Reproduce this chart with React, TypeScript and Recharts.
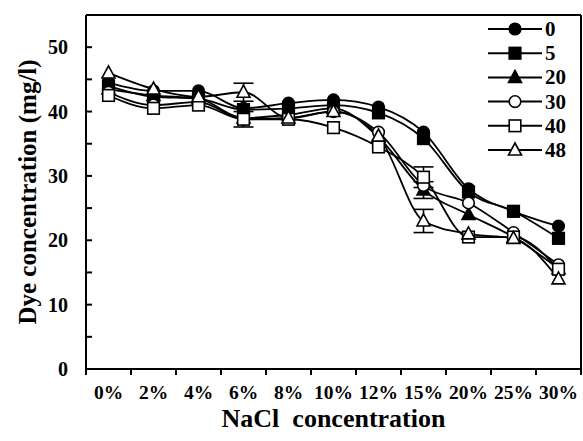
import React from 'react'
import {
  LineChart, Line, XAxis, YAxis, ReferenceLine, Legend, ErrorBar,
} from 'recharts'

const CATEGORIES = ['0%', '2%', '4%', '6%', '8%', '10%', '12%', '15%', '20%', '25%', '30%']
const S0 = [44.5, 43.2, 43.2, 40.5, 41.3, 41.8, 40.7, 36.8, 28, 24.5, 22.2]
const S5 = [44, 42.3, 42, 40.3, 40.5, 41, 39.8, 35.8, 27.5, 24.5, 20.3]
const S20 = [43.5, 42.5, 42, 39, 39.5, 40.5, 36, 27.8, 24, 20.5, 15.6]
const S30 = [43, 41, 41.5, 38.8, 39, 40, 36.8, 28.5, 25.8, 21.2, 16.2]
const S40 = [42.5, 40.5, 41, 38.8, 38.8, 37.5, 34.5, 29.8, 20.5, 20.5, 15.5]
const S48 = [46, 43.5, 42.3, 43, 39, 40, 36.2, 23, 21, 20.3, 14]
// error bars (only the visible ones)
const E20 = [0, 0, 0, 0, 0, 0, 0, 1.3, 0, 0, 0]
const E40 = [0, 0, 0, 1.2, 0, 0, 0, 1.6, 0, 0, 0]
const E48 = [0, 0, 0, 1.4, 0, 0, 0, 1.8, 0, 0, 0]
const Y_TICKS = [0, 5, 10, 15, 20, 25, 30, 35, 40, 45, 50]

const SERIES = [
  { key: 's0', name: '0', shape: 'circle', fill: '#000' },
  { key: 's5', name: '5', shape: 'square', fill: '#000' },
  { key: 's20', name: '20', shape: 'triangle', fill: '#000' },
  { key: 's30', name: '30', shape: 'circle', fill: '#fff' },
  { key: 's40', name: '40', shape: 'square', fill: '#fff' },
  { key: 's48', name: '48', shape: 'triangle', fill: '#fff' },
]

const data = CATEGORIES.map((c, i) => ({
  x: i + 0.5,
  label: c,
  s0: S0[i], s5: S5[i], s20: S20[i], s30: S30[i], s40: S40[i], s48: S48[i],
  e20: E20[i], e40: E40[i], e48: E48[i],
}))

const X_TICKS = Array.from({ length: 23 }, (_, i) => i / 2)

const W = 583
const H = 441
const PLOT_LEFT = 86
const PLOT_BOTTOM = 369
const FONT = '"Liberation Serif", "Times New Roman", serif'

function Marker({ cx, cy, shape, fill }: { cx: number; cy: number; shape: string; fill: string }) {
  if (cx == null || cy == null) return null
  const common = { fill, stroke: '#000', strokeWidth: 1.6 }
  if (shape === 'circle') return <circle cx={cx} cy={cy} r={5.8} {...common} />
  if (shape === 'square') return <rect x={cx - 5.8} y={cy - 5.8} width={11.6} height={11.6} {...common} />
  return <polygon points={`${cx},${cy - 7} ${cx - 6.5},${cy + 5} ${cx + 6.5},${cy + 5}`} {...common} />
}

function XTick(props: any) {
  const { x, payload } = props
  const v = payload.value
  if (Number.isInteger(v)) {
    return <line x1={x} y1={PLOT_BOTTOM} x2={x} y2={PLOT_BOTTOM + 6} stroke="#000" strokeWidth={2} />
  }
  return (
    <text x={x} y={PLOT_BOTTOM + 30} textAnchor="middle" fontFamily={FONT} fontWeight="bold" fontSize={19.5} fill="#000">
      {CATEGORIES[Math.floor(v)]}
    </text>
  )
}

function YTick(props: any) {
  const { y, payload } = props
  const v = payload.value
  return (
    <g>
      {v > 0 && <line x1={PLOT_LEFT} y1={y} x2={PLOT_LEFT + 6} y2={y} stroke="#000" strokeWidth={2} />}
      {v % 10 === 0 && (
        <text x={PLOT_LEFT - 18} y={y} dy={7} textAnchor="end" fontFamily={FONT} fontWeight="bold" fontSize={20} fill="#000">
          {v}
        </text>
      )}
    </g>
  )
}

function YLabel(props: any) {
  const vb = props.viewBox || { x: 0, y: 15, width: 86, height: 354 }
  const cx = vb.x + 27
  const cy = vb.y + vb.height / 2
  return (
    <text
      x={cx} y={cy}
      transform={`rotate(-90, ${cx}, ${cy})`}
      textAnchor="middle" dominantBaseline="central"
      fontFamily={FONT} fontWeight="bold" fontSize={25} fill="#000"
    >
      Dye concentration (mg/l)
    </text>
  )
}

function XLabel(props: any) {
  const vb = props.viewBox || { x: 86, y: 369, width: 495, height: 72 }
  return (
    <text
      x={vb.x + vb.width / 2} y={vb.y + 58}
      textAnchor="middle" xmlSpace="preserve"
      fontFamily={FONT} fontWeight="bold" fontSize={26} fill="#000"
    >
      {'NaCl\u00a0\u00a0concentration'}
    </text>
  )
}

function LegendBox() {
  return (
    <svg width={100} height={150}>
      {SERIES.map((s, i) => {
        const y = 12 + i * 24.2
        return (
          <g key={s.key}>
            <line x1={2} y1={y} x2={56} y2={y} stroke="#000" strokeWidth={2} />
            <Marker cx={29} cy={y} shape={s.shape} fill={s.fill} />
            <text x={59} y={y + 7} fontFamily={FONT} fontWeight="bold" fontSize={21} fill="#000">{s.name}</text>
          </g>
        )
      })}
    </svg>
  )
}

export default function App() {
  return (
    <div style={{ position: 'absolute', left: 0, top: 0, width: W, height: H, background: '#fff' }}>
      <LineChart width={W} height={H} data={data} margin={{ top: 15, right: 2, bottom: 0, left: 0 }}>
        <XAxis
          dataKey="x"
          type="number"
          domain={[0, 11]}
          ticks={X_TICKS}
          interval={0}
          tick={<XTick />}
          tickLine={false}
          axisLine={{ stroke: '#000', strokeWidth: 2 }}
          height={72}
          label={<XLabel />}
        />
        <YAxis
          type="number"
          domain={[0, 55]}
          ticks={Y_TICKS}
          interval={0}
          tick={<YTick />}
          tickLine={false}
          axisLine={{ stroke: '#000', strokeWidth: 2 }}
          width={86}
          label={<YLabel />}
        />
        <ReferenceLine y={55} stroke="#000" strokeWidth={2} />
        <ReferenceLine x={11} stroke="#000" strokeWidth={2} />
        <Legend
          layout="vertical"
          align="center"
          verticalAlign="middle"
          content={() => <LegendBox />}
          wrapperStyle={{ position: 'absolute', left: 486, top: 17, width: 100 }}
        />
        {SERIES.map((s) => (
          <Line
            key={s.key}
            dataKey={s.key}
            name={s.name}
            type="monotone"
            stroke="#000"
            strokeWidth={1.8}
            isAnimationActive={false}
            activeDot={false}
            dot={(p: any) => <Marker key={`${s.key}-${p.index}`} cx={p.cx} cy={p.cy} shape={s.shape} fill={s.fill} />}
          >
            {s.key === 's20' && <ErrorBar dataKey="e20" width={10} stroke="#000" strokeWidth={1.6} direction="y" />}
            {s.key === 's40' && <ErrorBar dataKey="e40" width={10} stroke="#000" strokeWidth={1.6} direction="y" />}
            {s.key === 's48' && <ErrorBar dataKey="e48" width={10} stroke="#000" strokeWidth={1.6} direction="y" />}
          </Line>
        ))}
      </LineChart>
    </div>
  )
}
